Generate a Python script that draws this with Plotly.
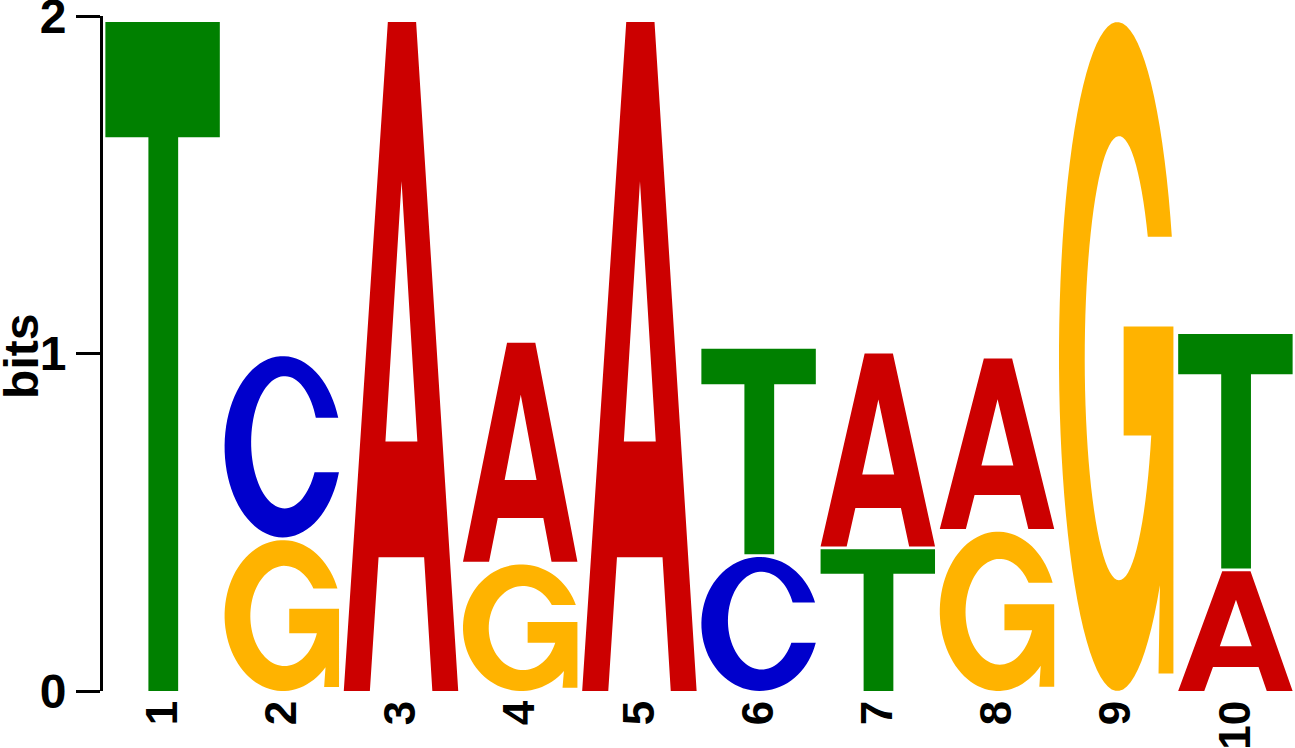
import numpy as np
import plotly.graph_objects as go

# sequence logo: information content (bits) per letter and position
POSITIONS = list(range(1, 11))
TICK_LABELS = [str(p) for p in POSITIONS]
LETTERS = ["A", "C", "G", "T"]
A_BITS = [0.0, 0.0, 1.99, 0.657, 1.99, 0.0, 0.58, 0.513, 0.0, 0.363]
C_BITS = [0.0, 0.545, 0.0, 0.0, 0.0, 0.405, 0.0, 0.0, 0.0, 0.0]
G_BITS = [0.0, 0.455, 0.0, 0.383, 0.0, 0.0, 0.0, 0.48, 1.99, 0.0]
T_BITS = [1.99, 0.0, 0.0, 0.0, 0.0, 0.617, 0.428, 0.0, 0.0, 0.703]

COLORS = {"A": "#CC0000", "C": "#0000CC", "G": "#FFB300", "T": "#008000"}
LETTER_WIDTH = 0.96
GAP = 0.008  # small space left on top of each stacked letter


def arc(cx, cy, rx, ry, a0, a1, n=80):
    t = np.radians(np.linspace(a0, a1, n))
    return list(zip(cx + rx * np.cos(t), cy + ry * np.sin(t)))


def angle_at(cy, ry, v):
    return np.degrees(np.arcsin((v - cy) / ry))


def glyph(letter):
    # outlines in a unit box (u across, v up)
    if letter == "T":
        return [[(0, 0.828), (0, 1), (1, 1), (1, 0.828), (0.636, 0.828),
                 (0.636, 0), (0.376, 0), (0.376, 0.828)]]
    if letter == "A":
        outer = [(0, 0), (0.385, 1), (0.632, 1), (1, 0), (0.774, 0),
                 (0.702, 0.2), (0.304, 0.2), (0.228, 0)]
        hole = [(0.364, 0.373), (0.505, 0.762), (0.643, 0.373)]
        return [outer, hole]
    if letter == "C":
        oc, oy, orx, ory = 0.51, 0.5, 0.51, 0.5
        ic, iy, irx, iry = 0.525, 0.525, 0.293, 0.365
        top, bot = 0.66, 0.36
        pts = arc(oc, oy, orx, ory, angle_at(oy, ory, top), 360 + angle_at(oy, ory, bot))
        pts += arc(ic, iy, irx, iry, 360 + angle_at(iy, iry, bot), angle_at(iy, iry, top))
        return [pts]
    # G
    oc, oy, orx, ory = 0.51, 0.5, 0.51, 0.5
    ic, iy, irx, iry = 0.525, 0.4975, 0.30, 0.332
    top, bowl_end, bar_top, bar_bot = 0.679, 0.158, 0.545, 0.382
    pts = arc(oc, oy, orx, ory, angle_at(oy, ory, top), 360 + angle_at(oy, ory, bowl_end))
    pts += [(0.87, 0.026), (1.0, 0.026), (1.0, bar_top), (0.565, bar_top), (0.565, bar_bot)]
    pts += arc(ic, iy, irx, iry, 360 + angle_at(iy, iry, bar_bot), angle_at(iy, iry, top))
    return [pts]


bits = {"A": A_BITS, "C": C_BITS, "G": G_BITS, "T": T_BITS}
shapes = []
for i, pos in enumerate(POSITIONS):
    stack = sorted([(bits[l][i], l) for l in LETTERS if bits[l][i] > 0])
    base = 0.0
    for h, letter in stack:
        path = ""
        for sub in glyph(letter):
            coords = [(pos - LETTER_WIDTH / 2 + u * LETTER_WIDTH, base + v * (h - GAP)) for u, v in sub]
            path += "M" + " L".join(f"{x:.5f},{y:.5f}" for x, y in coords) + " Z "
        shapes.append(dict(type="path", path=path, xref="x", yref="y",
                           fillcolor=COLORS[letter], line=dict(width=0), fillrule="evenodd"))
        base += h

fig = go.Figure(go.Scatter(x=POSITIONS, y=[0] * len(POSITIONS), mode="markers",
                           marker=dict(opacity=0), hoverinfo="skip"))
fig.update_layout(
    width=1295, height=748,
    margin=dict(l=103, r=0, t=16, b=57, autoexpand=False),
    plot_bgcolor="white", paper_bgcolor="white", showlegend=False,
    font=dict(family="Liberation Sans, Arial, sans-serif", color="black", weight="bold"),
    shapes=shapes,
    annotations=[dict(text="bits", textangle=-90, xref="paper", yref="paper",
                      x=0, y=0.495, xanchor="center", yanchor="middle", xshift=-81,
                      showarrow=False, font=dict(size=48))],
)
fig.update_xaxes(range=[0.5, 10.5], tickvals=POSITIONS, ticktext=TICK_LABELS, tickangle=-90,
                 showgrid=False, zeroline=False, showline=False, ticks="",
                 tickfont=dict(size=44), automargin=False)
fig.update_yaxes(range=[0, 2], tickvals=[0, 1, 2], showgrid=False, zeroline=False,
                 showline=True, linewidth=3, linecolor="black",
                 ticks="outside", ticklen=24, tickwidth=3, tickcolor="black",
                 tickfont=dict(size=48), ticklabeloverflow="allow", automargin=False)
# drop the default 8px page margin so the figure fills the window
fig.write_html("out.html", config={"displayModeBar": False},
               post_script="document.body.style.margin = '0px';")
